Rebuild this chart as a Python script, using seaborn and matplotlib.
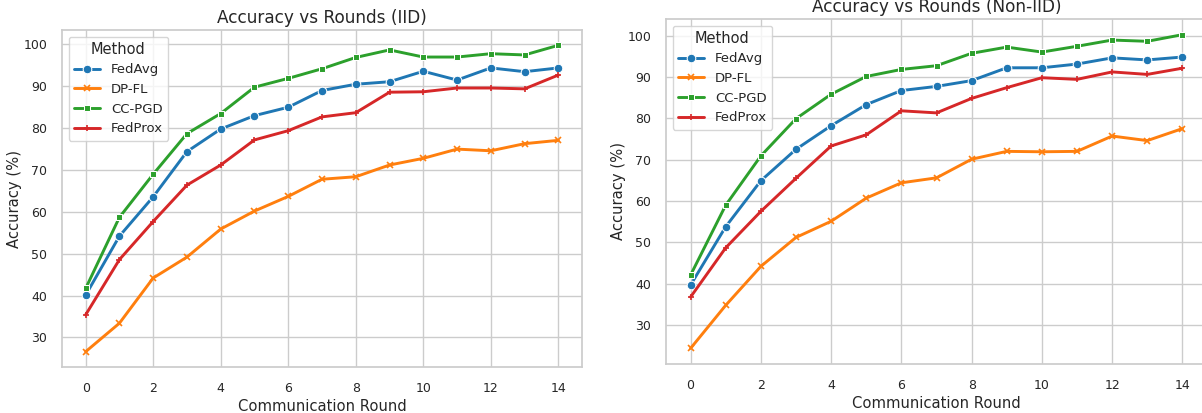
import numpy as np
import pandas as pd
import matplotlib
matplotlib.use("Agg")
import matplotlib.pyplot as plt
import seaborn as sns

rounds = list(range(15))
methods = ["FedAvg", "DP-FL", "CC-PGD", "FedProx"]

# IID accuracy (%)
iid_fedavg = [40.1, 54.2, 63.6, 74.4, 79.8, 83.0, 85.0, 89.0, 90.5, 91.1, 93.6, 91.5, 94.4, 93.5, 94.4]
iid_dpfl = [26.6, 33.4, 44.2, 49.2, 55.9, 60.2, 63.7, 67.8, 68.4, 71.2, 72.8, 75.0, 74.6, 76.3, 77.1]
iid_ccpgd = [41.7, 58.7, 69.0, 78.7, 83.5, 89.8, 91.9, 94.2, 96.9, 98.7, 97.0, 97.0, 97.8, 97.5, 99.8]
iid_fedprox = [35.4, 48.6, 57.7, 66.4, 71.2, 77.2, 79.4, 82.7, 83.7, 88.6, 88.7, 89.6, 89.6, 89.4, 92.7]

# Non-IID accuracy (%)
noniid_fedavg = [39.7, 53.8, 64.9, 72.5, 78.2, 83.3, 86.7, 87.7, 89.1, 92.2, 92.2, 93.1, 94.6, 94.1, 94.8]
noniid_dpfl = [24.4, 34.8, 44.2, 51.2, 55.1, 60.7, 64.4, 65.6, 70.1, 72.0, 71.9, 72.0, 75.7, 74.6, 77.5]
noniid_ccpgd = [42.1, 59.0, 70.9, 79.9, 85.8, 90.1, 91.8, 92.7, 95.7, 97.2, 96.0, 97.4, 98.9, 98.6, 100.2]
noniid_fedprox = [36.8, 48.7, 57.5, 65.5, 73.3, 76.0, 81.8, 81.3, 84.8, 87.4, 89.8, 89.4, 91.2, 90.6, 92.1]

markers = ["o", "x", "s", "+"]
colors = sns.color_palette("tab10", 4)

sns.set_theme(style="whitegrid")
plt.rcParams['font.family'] = ['DejaVu Sans']

fig = plt.figure(figsize=(12.02, 4.13), dpi=100)
ax1 = fig.add_axes([62 / 1202, 46 / 413, 520 / 1202, 337 / 413])
ax2 = fig.add_axes([666 / 1202, 49 / 413, 541 / 1202, 345 / 413])

panels = [
    (ax1, [iid_fedavg, iid_dpfl, iid_ccpgd, iid_fedprox], "Accuracy vs Rounds (IID)"),
    (ax2, [noniid_fedavg, noniid_dpfl, noniid_ccpgd, noniid_fedprox], "Accuracy vs Rounds (Non-IID)"),
]

for ax, series, title in panels:
    for name, vals, mk, c in zip(methods, series, markers, colors):
        filled = mk in ("o", "s")
        sns.lineplot(x=rounds, y=vals, marker=mk, color=c, label=name,
                     linewidth=2.1, markersize=6.2 if mk == "o" else 5,
                     markeredgecolor="white" if filled else c,
                     markeredgewidth=0.75 if filled else 1.2, ax=ax)
    ax.set_title(title, fontsize=12.2, pad=5)
    ax.set_xlabel("Communication Round", fontsize=10.6, labelpad=3)
    ax.set_ylabel("Accuracy (%)", fontsize=10.6, labelpad=1)
    ax.tick_params(axis="x", labelsize=9, pad=5)
    ax.tick_params(axis="y", labelsize=9, pad=4.5)
    ax.set_xticks(range(0, 15, 2))
    ax.legend(title="Method", loc="upper left", fontsize=9.5, title_fontsize=10.5)

fig.savefig("out.png", dpi=100)
